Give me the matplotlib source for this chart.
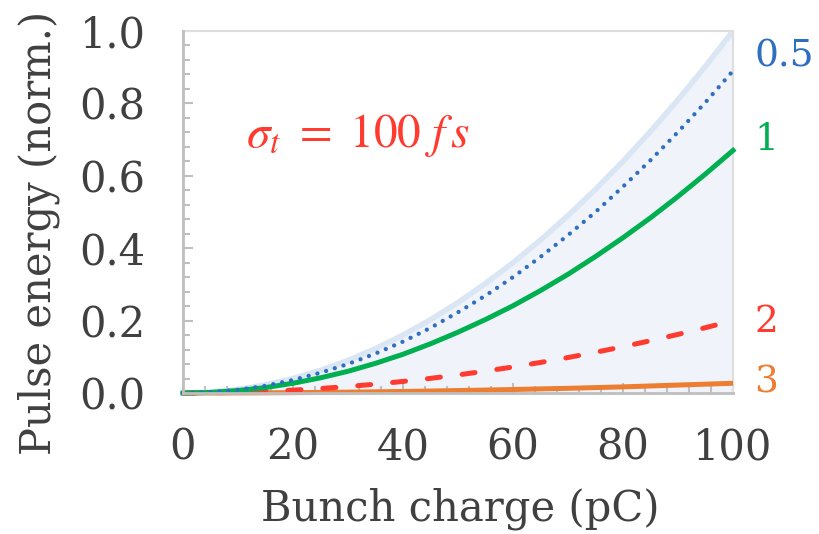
import numpy as np
import matplotlib
matplotlib.use("Agg")
import matplotlib.pyplot as plt
from matplotlib.ticker import MultipleLocator, FormatStrFormatter

plt.rcParams['font.family'] = ['DejaVu Serif']
plt.rcParams['mathtext.fontset'] = 'stix'

# bunch charge (pC) and normalised pulse energy for each curve
charge = [0, 5, 10, 15, 20, 25, 30, 35, 40, 45, 50,
          55, 60, 65, 70, 75, 80, 85, 90, 95, 100]
e_ref = [0, 0.0025, 0.01, 0.0225, 0.04, 0.0625, 0.09, 0.1225, 0.16, 0.2025, 0.25,
         0.3025, 0.36, 0.4225, 0.49, 0.5625, 0.64, 0.7225, 0.81, 0.9025, 1.0]
e_05 = [0, 0.0022, 0.009, 0.02, 0.036, 0.056, 0.08, 0.109, 0.142, 0.18, 0.223,
        0.269, 0.32, 0.376, 0.436, 0.5, 0.57, 0.643, 0.721, 0.803, 0.89]
e_1 = [0, 0.0017, 0.007, 0.015, 0.027, 0.042, 0.06, 0.082, 0.107, 0.136, 0.168,
       0.203, 0.241, 0.283, 0.328, 0.377, 0.429, 0.484, 0.543, 0.605, 0.67]
e_2 = [0, 0.0005, 0.002, 0.0045, 0.008, 0.0125, 0.018, 0.0245, 0.032, 0.0405, 0.05,
       0.0605, 0.072, 0.0845, 0.098, 0.1125, 0.128, 0.1445, 0.162, 0.1805, 0.2]
e_3 = [0, 0.0001, 0.0003, 0.0006, 0.001, 0.0017, 0.0024, 0.0033, 0.0043, 0.0055, 0.0068,
       0.0082, 0.0097, 0.0114, 0.013, 0.015, 0.017, 0.0195, 0.022, 0.0244, 0.027]

curve_names = ['0.5', '1', '2', '3']
label_y = [0.93, 0.70, 0.196, 0.03]

c_blue = '#2f6fc0'
c_green = '#00b050'
c_red = '#ff3b30'
c_orange = '#ed7d31'
c_text = '#404040'

fig = plt.figure(figsize=(8.19, 5.34), dpi=100)
ax = fig.add_axes([0.2234, 0.264, 0.6716, 0.678])

# shaded envelope
ax.fill_between(charge, 0, e_ref, color='#f0f4fa', lw=0, zorder=1)
ax.plot(charge, e_ref, color='#dbe6f4', lw=4, zorder=2)

ax.plot(charge, e_3, color=c_orange, lw=3.6, solid_capstyle='butt', zorder=3, clip_on=False)
ax.plot(charge, e_2, color=c_red, lw=3.6, dashes=(2.6, 4.4), dash_capstyle='round',
        zorder=4, clip_on=False)
ax.plot(charge, e_1, color=c_green, lw=3.6, zorder=5, clip_on=False)
ax.plot(charge, e_05, color=c_blue, lw=3.1, dashes=(0.01, 2.1), dash_capstyle='round',
        zorder=6, clip_on=False)

ax.set_xlim(0, 100)
ax.set_ylim(0, 1)

ax.xaxis.set_major_locator(MultipleLocator(20))
ax.xaxis.set_minor_locator(MultipleLocator(4))
ax.yaxis.set_major_locator(MultipleLocator(0.2))
ax.yaxis.set_minor_locator(MultipleLocator(0.04))
ax.yaxis.set_major_formatter(FormatStrFormatter('%.1f'))

ax.tick_params(which='both', direction='in', color='#bfbfbf', width=1.5,
               labelsize=30, labelcolor=c_text)
ax.tick_params(which='major', length=7.5)
ax.tick_params(which='minor', length=5)
ax.tick_params(axis='y', which='both', pad=27)
ax.tick_params(axis='x', which='both', pad=24)

for s in ['left', 'bottom']:
    ax.spines[s].set_color('#bfbfbf')
    ax.spines[s].set_linewidth(2)
    ax.spines[s].set_zorder(7)
for s in ['top', 'right']:
    ax.spines[s].set_color('#dedede')
    ax.spines[s].set_linewidth(1.5)

ax.set_xlabel('Bunch charge (pC)', fontsize=30, color=c_text)
ax.set_ylabel('Pulse energy (norm.)', fontsize=30, color=c_text)
ax.xaxis.set_label_coords(0.505, -0.262)
ax.yaxis.set_label_coords(-0.224, 0.443)

# curve labels on the right
for name, y, c in zip(curve_names, label_y, [c_blue, c_green, c_red, c_orange]):
    ax.text(103.9, y, name, color=c, fontsize=27, ha='left', va='center', clip_on=False)

ax.text(11.5, 0.68, r'$\sigma_t\ =\ 100\ f\,s$', color=c_red, fontsize=34,
        ha='left', va='baseline')

fig.savefig('out.png', dpi=100)
